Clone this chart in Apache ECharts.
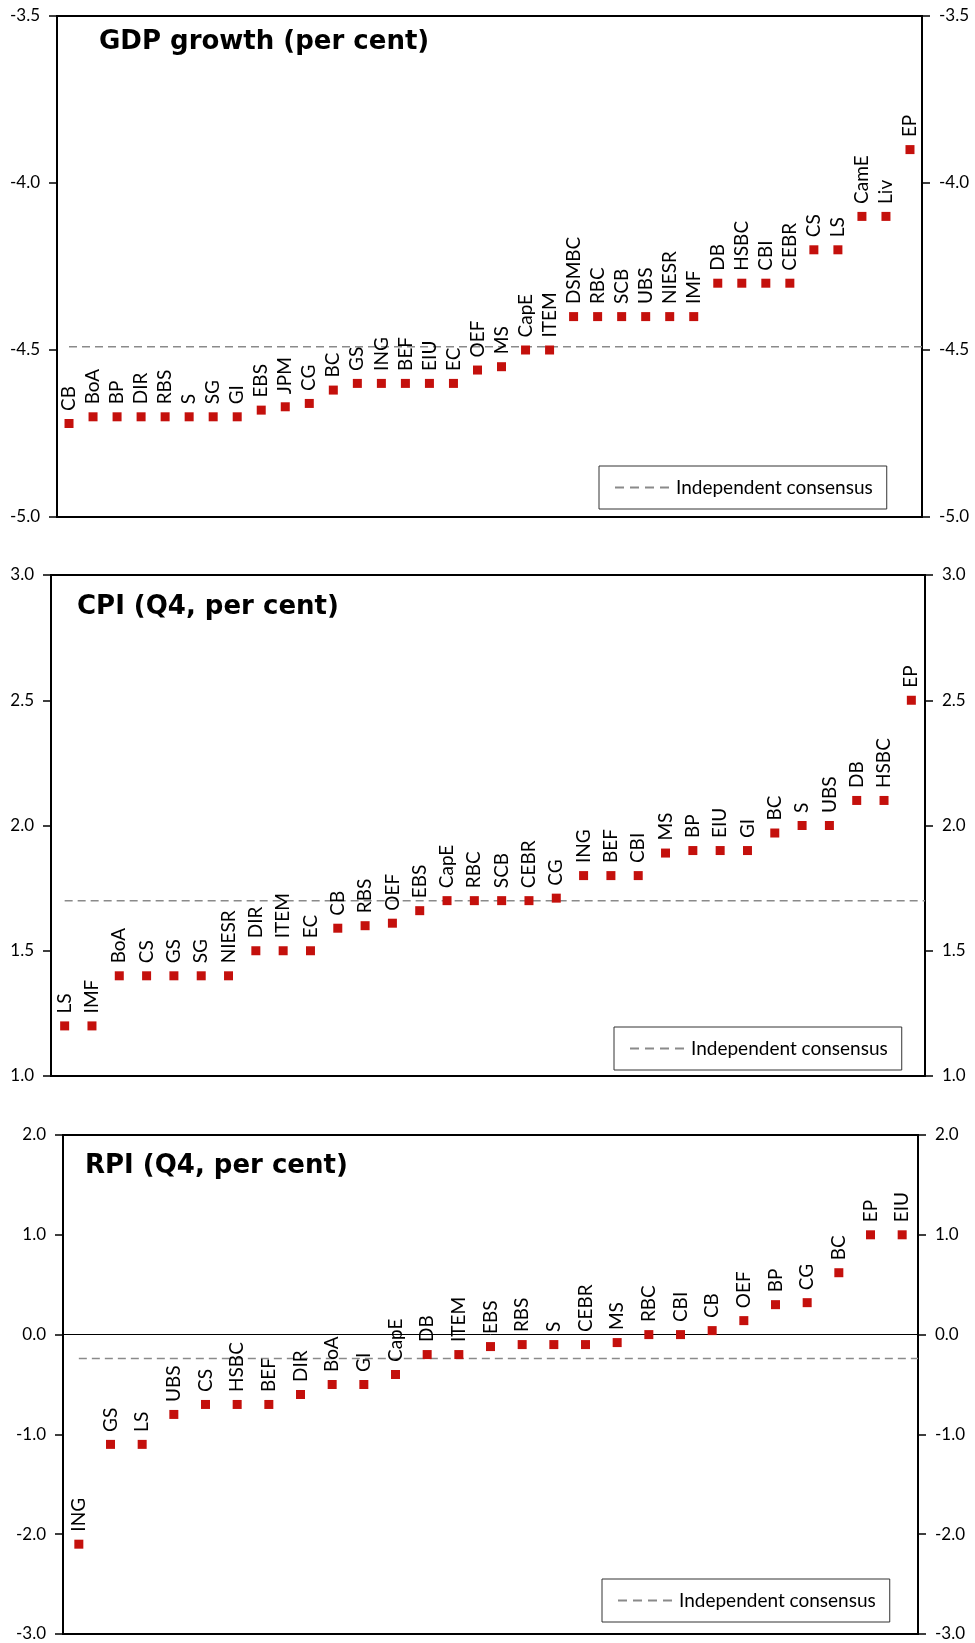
<!DOCTYPE html>
<html>
<head>
<meta charset="utf-8">
<script src="https://cdn.jsdelivr.net/npm/echarts/dist/echarts.min.js"></script>
<style>
html,body{margin:0;padding:0;background:#fff;}
#chart{width:975px;height:1643px;}
</style>
</head>
<body>
<div id="chart"></div>
<script>
// ---------- DATA ----------
const gdpCategories = ['CB','BoA','BP','DIR','RBS','S','SG','GI','EBS','JPM','CG','BC','GS','ING','BEF','EIU','EC','OEF','MS','CapE','ITEM','DSMBC','RBC','SCB','UBS','NIESR','IMF','DB','HSBC','CBI','CEBR','CS','LS','CamE','Liv','EP'];
const gdpValues = [-4.72,-4.7,-4.7,-4.7,-4.7,-4.7,-4.7,-4.7,-4.68,-4.67,-4.66,-4.62,-4.6,-4.6,-4.6,-4.6,-4.6,-4.56,-4.55,-4.5,-4.5,-4.4,-4.4,-4.4,-4.4,-4.4,-4.4,-4.3,-4.3,-4.3,-4.3,-4.2,-4.2,-4.1,-4.1,-3.9];
const gdpConsensus = -4.49;
const gdpTicks = {min: -5.0, max: -3.5, interval: 0.5};

const cpiCategories = ['LS','IMF','BoA','CS','GS','SG','NIESR','DIR','ITEM','EC','CB','RBS','OEF','EBS','CapE','RBC','SCB','CEBR','CG','ING','BEF','CBI','MS','BP','EIU','GI','BC','S','UBS','DB','HSBC','EP'];
const cpiValues = [1.2,1.2,1.4,1.4,1.4,1.4,1.4,1.5,1.5,1.5,1.59,1.6,1.61,1.66,1.7,1.7,1.7,1.7,1.71,1.8,1.8,1.8,1.89,1.9,1.9,1.9,1.97,2.0,2.0,2.1,2.1,2.5];
const cpiConsensus = 1.7;
const cpiTicks = {min: 1.0, max: 3.0, interval: 0.5};

const rpiCategories = ['ING','GS','LS','UBS','CS','HSBC','BEF','DIR','BoA','GI','CapE','DB','ITEM','EBS','RBS','S','CEBR','MS','RBC','CBI','CB','OEF','BP','CG','BC','EP','EIU'];
const rpiValues = [-2.1,-1.1,-1.1,-0.8,-0.7,-0.7,-0.7,-0.6,-0.5,-0.5,-0.4,-0.2,-0.2,-0.12,-0.1,-0.1,-0.1,-0.08,0,0,0.04,0.14,0.3,0.32,0.62,1.0,1.0];
const rpiConsensus = -0.24;
const rpiTicks = {min: -3.0, max: 2.0, interval: 1.0};

const titles = ['GDP growth (per cent)', 'CPI (Q4, per cent)', 'RPI (Q4, per cent)'];
const consensusName = 'Independent consensus';

// ---------- STYLE / LAYOUT ----------
const FONT = 'Lato';
const RED = '#c4100c';
const GRAY = '#8a8a8a';

const panels = [
  {cats: gdpCategories, vals: gdpValues, cons: gdpConsensus, ticks: gdpTicks,
   grid: {left: 57, right: 53, top: 16, height: 501},
   title: {left: 99, top: 29}, legend: {left: 599, top: 466}},
  {cats: cpiCategories, vals: cpiValues, cons: cpiConsensus, ticks: cpiTicks,
   grid: {left: 51, right: 50, top: 575, height: 501},
   title: {left: 77, top: 594}, legend: {left: 614, top: 1027}},
  {cats: rpiCategories, vals: rpiValues, cons: rpiConsensus, ticks: rpiTicks,
   grid: {left: 63, right: 57, top: 1135, height: 499},
   title: {left: 85, top: 1153}, legend: {left: 602, top: 1579}}
];

const option = {
  animation: false,
  backgroundColor: '#fff',
  textStyle: {fontFamily: FONT},
  title: [], legend: [], grid: [], xAxis: [], yAxis: [], series: []
};

const dashIcon = 'path://M0,0H9V2H0Z M15,0H24V2H15Z M30,0H39V2H30Z M45,0H54V2H45Z';

panels.forEach((p, i) => {
  option.title.push({
    text: titles[i], left: p.title.left, top: p.title.top, padding: 0,
    textStyle: {fontFamily: 'DejaVu Sans', fontWeight: 'bold', fontSize: 26, color: '#000'}
  });
  option.legend.push({
    data: [consensusName], left: p.legend.left, top: p.legend.top,
    orient: 'horizontal', icon: dashIcon, itemWidth: 54, itemHeight: 2,
    padding: [12, 14, 12, 16], borderColor: '#333', borderWidth: 1,
    selectedMode: false,
    textStyle: {fontFamily: FONT, fontSize: 19, color: '#000', padding: [0, 0, 0, 2]}
  });
  option.grid.push(Object.assign({show: true, borderColor: '#000', borderWidth: 2, backgroundColor: 'transparent'}, p.grid));
});

// category axes (index 0..2)
panels.forEach((p, i) => {
  option.xAxis.push({
    type: 'category', gridIndex: i, data: p.cats, boundaryGap: true,
    axisLine: {show: i === 2, onZero: true, lineStyle: {color: '#000', width: 1}},
    axisTick: {show: false}, axisLabel: {show: false}, splitLine: {show: false}
  });
});
// value x axes for consensus line (index 3..5)
panels.forEach((p, i) => {
  option.xAxis.push({
    type: 'value', gridIndex: i, min: 0, max: p.cats.length, show: false
  });
});
// y axes: left & right per grid (index 2i, 2i+1)
panels.forEach((p, i) => {
  ['left', 'right'].forEach(pos => {
    option.yAxis.push({
      type: 'value', gridIndex: i, position: pos,
      min: p.ticks.min, max: p.ticks.max, interval: p.ticks.interval,
      axisLine: {show: false},
      axisTick: {show: true, length: 8, lineStyle: {color: '#000', width: 1.5}},
      splitLine: {show: false},
      axisLabel: {fontFamily: FONT, fontSize: 17, color: '#000', margin: 17,
                  formatter: v => v.toFixed(1)}
    });
  });
});

panels.forEach((p, i) => {
  option.series.push({
    type: 'scatter', name: 'forecast', xAxisIndex: i, yAxisIndex: 2 * i,
    data: p.vals, symbol: 'rect', symbolSize: 9,
    itemStyle: {color: RED, opacity: 1},
    label: {
      show: true, position: 'top', distance: 8, rotate: 90,
      align: 'left', verticalAlign: 'middle',
      formatter: prm => p.cats[prm.dataIndex],
      fontFamily: FONT, fontSize: 19, color: '#000'
    },
    z: 3
  });
  option.series.push({
    type: 'line', name: consensusName, xAxisIndex: 3 + i, yAxisIndex: 2 * i,
    data: [[0.5, p.cons], [p.cats.length, p.cons]],
    symbol: 'none', color: GRAY,
    lineStyle: {color: GRAY, width: 1.5, type: [8, 5]},
    itemStyle: {color: GRAY},
    z: 2
  });
});

const chart = echarts.init(document.getElementById('chart'), null, {renderer: 'canvas'});
chart.setOption(option);
</script>
</body>
</html>
